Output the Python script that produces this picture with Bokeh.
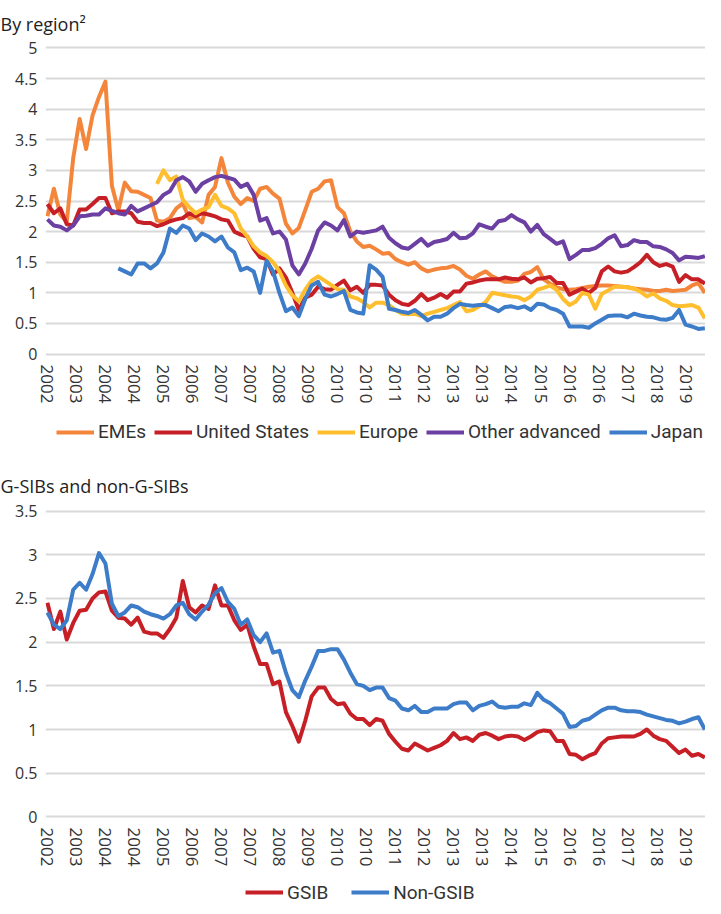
from bokeh.plotting import figure
from bokeh.models import Range1d, FixedTicker, NumeralTickFormatter, Legend, LegendItem
from bokeh.layouts import column
from bokeh.embed import file_html
from bokeh.resources import INLINE

nan = float("nan")

# months since mid-2002, every second month
months = list(range(0, 205, 2))
tick_months = [9 * i for i in range(23)]
tick_labels = ["2002", "2003", "2004", "2004", "2005", "2006", "2007", "2007", "2008", "2009",
               "2010", "2010", "2011", "2012", "2013", "2013", "2014", "2015", "2016", "2016",
               "2017", "2018", "2019"]

emes = [2.25, 2.7, 2.28, 2.16, 3.2, 3.84, 3.35, 3.9, 4.2, 4.45,
        2.75, 2.35, 2.8, 2.66, 2.65, 2.6, 2.55, 2.18, 2.16, 2.22,
        2.38, 2.46, 2.22, 2.24, 2.15, 2.6, 2.73, 3.2, 2.8, 2.57,
        2.45, 2.55, 2.5, 2.7, 2.73, 2.62, 2.54, 2.13, 1.97, 2.06,
        2.35, 2.65, 2.7, 2.82, 2.84, 2.4, 2.3, 2.0, 1.84, 1.75,
        1.77, 1.71, 1.64, 1.65, 1.55, 1.5, 1.46, 1.5, 1.4, 1.35,
        1.38, 1.4, 1.41, 1.44, 1.38, 1.28, 1.23, 1.3, 1.35, 1.27,
        1.22, 1.18, 1.18, 1.2, 1.31, 1.34, 1.42, 1.22, 1.15, 1.09,
        1.06, 1.05, 1.06, 1.08, 1.1, 1.11, 1.12, 1.12, 1.11, 1.1,
        1.09, 1.07, 1.06, 1.05, 1.03, 1.03, 1.05, 1.03, 1.04, 1.05,
        1.12, 1.16, 1.0]

united_states = [2.45, 2.3, 2.38, 2.12, 2.1, 2.36, 2.36, 2.45, 2.55, 2.55,
                 2.3, 2.33, 2.33, 2.3, 2.16, 2.14, 2.14, 2.09, 2.12, 2.17,
                 2.2, 2.22, 2.3, 2.25, 2.3, 2.28, 2.25, 2.2, 2.18, 2.0,
                 1.95, 1.92, 1.72, 1.58, 1.55, 1.3, 1.4, 1.25, 1.0, 0.72,
                 0.92, 0.97, 1.1, 1.06, 1.05, 1.13, 1.2, 1.04, 1.1, 1.0,
                 1.13, 1.13, 1.12, 0.97, 0.88, 0.82, 0.8, 0.87, 0.98, 0.88,
                 0.92, 0.98, 0.92, 1.02, 1.02, 1.15, 1.17, 1.2, 1.22, 1.22,
                 1.22, 1.25, 1.23, 1.22, 1.25, 1.17, 1.23, 1.24, 1.26, 1.16,
                 1.16, 0.97, 1.02, 1.07, 1.0, 1.08, 1.35, 1.43, 1.35, 1.33,
                 1.35, 1.42, 1.5, 1.62, 1.5, 1.44, 1.47, 1.43, 1.18, 1.29,
                 1.22, 1.22, 1.15]

europe = [nan] * 17 + [
    2.78, 3.0, 2.84, 2.9, 2.52, 2.4, 2.3, 2.36, 2.4, 2.6,
    2.42, 2.38, 2.3, 2.05, 1.92, 1.76, 1.66, 1.6, 1.5, 1.35,
    1.12, 0.96, 0.86, 1.05, 1.2, 1.27, 1.2, 1.13, 1.06, 1.05,
    0.94, 0.91, 0.85, 0.76, 0.84, 0.84, 0.8, 0.72, 0.66, 0.65,
    0.66, 0.62, 0.66, 0.69, 0.72, 0.75, 0.8, 0.85, 0.7, 0.72,
    0.78, 0.85, 1.0, 0.98, 0.96, 0.94, 0.93, 0.88, 0.94, 1.05,
    1.08, 1.12, 1.05, 0.9, 0.8, 0.86, 1.0, 0.97, 0.74, 0.98,
    1.04, 1.1, 1.1, 1.09, 1.07, 1.02, 0.94, 0.99, 0.91, 0.87,
    0.8, 0.78, 0.79, 0.8, 0.76, 0.58]

other_advanced = [2.2, 2.1, 2.08, 2.02, 2.1, 2.25, 2.26, 2.28, 2.28, 2.38,
                  2.34, 2.3, 2.28, 2.42, 2.33, 2.38, 2.43, 2.48, 2.6, 2.66,
                  2.84, 2.89, 2.82, 2.65, 2.78, 2.84, 2.89, 2.91, 2.88, 2.85,
                  2.73, 2.78, 2.6, 2.18, 2.22, 1.97, 2.0, 1.87, 1.45, 1.3,
                  1.48, 1.72, 2.02, 2.15, 2.1, 2.02, 2.19, 1.92, 2.0, 1.98,
                  2.0, 2.02, 2.08, 1.9, 1.81, 1.74, 1.72, 1.8, 1.88, 1.77,
                  1.83, 1.85, 1.88, 1.98, 1.89, 1.9, 1.97, 2.12, 2.08, 2.05,
                  2.17, 2.19, 2.27, 2.2, 2.15, 2.0, 2.11, 1.96, 1.88, 1.8,
                  1.84, 1.55, 1.62, 1.7, 1.7, 1.73, 1.8, 1.89, 1.94, 1.76,
                  1.78, 1.86, 1.83, 1.83, 1.76, 1.75, 1.71, 1.65, 1.53, 1.59,
                  1.58, 1.57, 1.6]

japan = [nan] * 11 + [
    1.4, 1.35, 1.3, 1.48, 1.48, 1.4, 1.48, 1.66, 2.05, 1.98,
    2.1, 2.05, 1.86, 1.97, 1.92, 1.84, 1.92, 1.74, 1.66, 1.37,
    1.41, 1.35, 1.0, 1.52, 1.35, 1.0, 0.7, 0.76, 0.62, 0.9,
    1.12, 1.18, 0.97, 0.94, 0.98, 1.03, 0.72, 0.68, 0.66, 1.45,
    1.38, 1.26, 0.74, 0.72, 0.69, 0.67, 0.72, 0.64, 0.55, 0.61,
    0.61, 0.66, 0.75, 0.82, 0.8, 0.79, 0.8, 0.8, 0.75, 0.7,
    0.77, 0.78, 0.75, 0.78, 0.72, 0.82, 0.81, 0.75, 0.72, 0.66,
    0.45, 0.45, 0.45, 0.43, 0.5, 0.56, 0.62, 0.63, 0.63, 0.6,
    0.66, 0.63, 0.61, 0.6, 0.57, 0.56, 0.59, 0.72, 0.48, 0.45,
    0.41, 0.42]

gsib = [2.45, 2.15, 2.35, 2.03, 2.22, 2.36, 2.37, 2.5, 2.57, 2.58,
        2.36, 2.28, 2.27, 2.2, 2.28, 2.12, 2.1, 2.1, 2.05, 2.15,
        2.28, 2.7, 2.4, 2.34, 2.42, 2.38, 2.65, 2.42, 2.42, 2.25,
        2.14, 2.2, 1.95, 1.75, 1.75, 1.52, 1.55, 1.2, 1.04, 0.86,
        1.1, 1.38, 1.48, 1.48, 1.35, 1.29, 1.3, 1.18, 1.12, 1.12,
        1.05, 1.12, 1.1, 0.95, 0.86, 0.78, 0.76, 0.84, 0.8, 0.76,
        0.79, 0.82, 0.87, 0.96, 0.89, 0.91, 0.87, 0.94, 0.96, 0.93,
        0.89, 0.92, 0.93, 0.92, 0.88, 0.92, 0.97, 0.99, 0.98, 0.87,
        0.87, 0.72, 0.71, 0.66, 0.7, 0.73, 0.84, 0.9, 0.91, 0.92,
        0.92, 0.92, 0.95, 1.0, 0.93, 0.89, 0.87, 0.8, 0.73, 0.77,
        0.7, 0.72, 0.68]

non_gsib = [2.34, 2.2, 2.15, 2.25, 2.6, 2.68, 2.6, 2.78, 3.02, 2.9,
            2.44, 2.3, 2.34, 2.42, 2.4, 2.35, 2.32, 2.3, 2.27, 2.32,
            2.42, 2.45, 2.32, 2.26, 2.35, 2.43, 2.56, 2.62, 2.46, 2.38,
            2.2, 2.26, 2.08, 2.0, 2.1, 1.88, 1.9, 1.65, 1.45, 1.37,
            1.56, 1.72, 1.9, 1.9, 1.92, 1.92, 1.8, 1.65, 1.52, 1.5,
            1.45, 1.48, 1.48, 1.36, 1.33, 1.24, 1.22, 1.27, 1.2, 1.2,
            1.24, 1.24, 1.24, 1.29, 1.31, 1.31, 1.22, 1.27, 1.29, 1.32,
            1.26, 1.25, 1.26, 1.26, 1.3, 1.28, 1.42, 1.34, 1.3, 1.24,
            1.18, 1.03, 1.04, 1.1, 1.12, 1.17, 1.22, 1.25, 1.25, 1.22,
            1.21, 1.21, 1.2, 1.17, 1.15, 1.13, 1.11, 1.1, 1.07, 1.09,
            1.12, 1.14, 1.0]

top_series = [("EMEs", emes, "#F4863C"),
              ("United States", united_states, "#C71F26"),
              ("Europe", europe, "#FFBE2E"),
              ("Other advanced", other_advanced, "#6C3FA2"),
              ("Japan", japan, "#3D7CC9")]
bottom_series = [("GSIB", gsib, "#C71F26"),
                 ("Non-GSIB", non_gsib, "#3D7CC9")]

TICK_FONT = "Open Sans"
LEGEND_FONT = "Roboto"
TEXT_COLOR = "#333333"
STRIP_W = 705
LINE_W = 4


def legend_strip(height, series, x, y, spacing):
    """A blank band (1 data unit = 1 pixel) that holds a legend."""
    s = figure(frame_width=STRIP_W, frame_height=height,
               min_border_left=0, min_border_right=0, min_border_top=0, min_border_bottom=0,
               x_range=Range1d(0, STRIP_W), y_range=Range1d(0, height),
               x_axis_location=None, y_axis_location=None,
               output_backend="svg", toolbar_location=None)
    s.grid.visible = False
    s.outline_line_color = None
    s.background_fill_color = "white"
    s.border_fill_color = "white"
    items = []
    for name, _vals, color in series:
        r = s.line([nan], [nan], line_color=color, line_width=LINE_W)  # legend key only
        items.append(LegendItem(label=name, renderers=[r]))
    s.add_layout(Legend(items=items, orientation="horizontal", location=(x, y),
                        glyph_width=38, glyph_height=18, label_standoff=4, spacing=spacing,
                        padding=0, margin=0, border_line_color=None,
                        background_fill_alpha=0,
                        label_text_font=LEGEND_FONT, label_text_font_size="19px",
                        label_text_color=TEXT_COLOR))
    return s


def make_panel(title, series, y_lo, y_hi, y_ticks, top_border, title_standoff):
    p = figure(frame_width=660, frame_height=311,
               min_border_left=45, min_border_right=0,
               min_border_top=top_border, min_border_bottom=58,
               x_range=Range1d(-0.6, 204.2), y_range=Range1d(y_lo, y_hi),
               output_backend="svg", toolbar_location=None, title=title)
    p.outline_line_color = None
    p.background_fill_color = "white"
    p.border_fill_color = "white"

    p.title.text_font = TICK_FONT
    p.title.text_font_size = "18px"
    p.title.text_font_style = "normal"
    p.title.text_color = "#222222"
    p.title.align = "left"
    p.title.offset = -45
    p.title.standoff = title_standoff

    p.xgrid.grid_line_color = None
    p.ygrid.grid_line_color = "#D9D9D9"
    p.ygrid.grid_line_width = 2
    p.yaxis.ticker = FixedTicker(ticks=y_ticks)
    p.yaxis.formatter = NumeralTickFormatter(format="0.[0]")
    p.xaxis.ticker = FixedTicker(ticks=tick_months)
    p.xaxis.major_label_overrides = {m: lab for m, lab in zip(tick_months, tick_labels)}
    p.xaxis.major_label_orientation = "vertical"

    for ax in (p.xaxis, p.yaxis):
        ax.axis_line_color = None
        ax.major_tick_line_color = None
        ax.minor_tick_line_color = None
        ax.major_tick_in = 0
        ax.major_tick_out = 0
        ax.minor_tick_in = 0
        ax.minor_tick_out = 0
        ax.major_label_text_font = TICK_FONT
        ax.major_label_text_color = TEXT_COLOR
        ax.major_label_standoff = 8
    p.xaxis.major_label_text_font_size = "17px"
    p.yaxis.major_label_text_font_size = "16px"

    for name, vals, color in series:
        p.line(months, vals, line_color=color, line_width=LINE_W, line_join="round")
    return p


p1 = make_panel("By region\u00b2", top_series, -0.04, 5.04,
                [0, 0.5, 1, 1.5, 2, 2.5, 3, 3.5, 4, 4.5, 5], 38, 19)
s2 = legend_strip(46, top_series, 56, 17, 8)
p2 = make_panel("G-SIBs and non-G-SIBs", bottom_series, -0.03, 3.53,
                [0, 0.5, 1, 1.5, 2, 2.5, 3, 3.5], 48, 22)
s3 = legend_strip(28, bottom_series, 245, 1.3, 23)

layout = column(p1, s2, p2, s3, spacing=0)

with open("out.html", "w") as f:
    f.write(file_html(layout, INLINE))
